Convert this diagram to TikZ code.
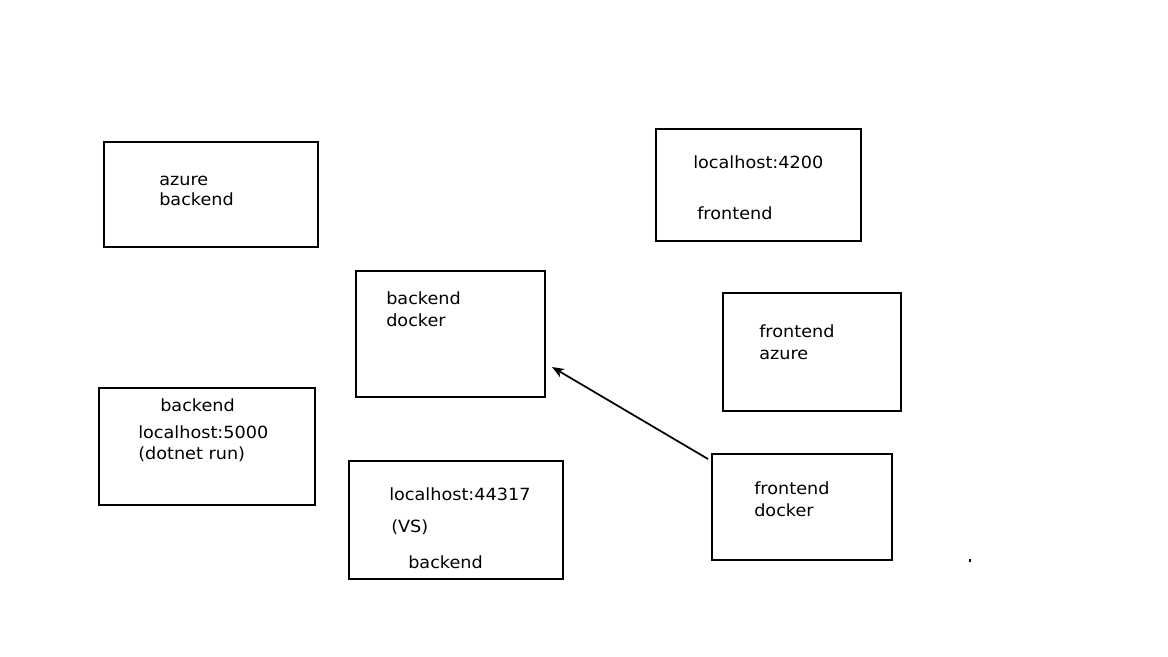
\documentclass[tikz,border=0pt]{standalone}
\usepackage{fontspec}
\setmainfont{DejaVu Sans}[FakeStretch=1.05]
\usetikzlibrary{fit,arrows.meta}
\begin{document}
\begin{tikzpicture}[x=0.75pt,y=-0.75pt,
  box/.style={draw=black, line width=1.5pt, inner sep=0pt},
  lbl/.style={anchor=base west, inner sep=0pt, font=\fontsize{12.6pt}{15pt}\selectfont},
  conn/.style={line width=1.3pt, -{Stealth[length=9pt,width=7pt,inset=2.5pt]}}]
\useasboundingbox (0,0) rectangle (1168,657);
\fill[white] (0,0) rectangle (1168,657);
% boxes
\node[box, fit={(104,142) (318,247)}] (b1) {};
\node[box, fit={(656,129) (861,241)}] (b2) {};
\node[box, fit={(356,271) (545,397)}] (b3) {};
\node[box, fit={(723,293) (901,411)}] (b4) {};
\node[box, fit={(99,388) (315,505)}] (b5) {};
\node[box, fit={(349,461) (563,579)}] (b6) {};
\node[box, fit={(712,454) (892,560)}] (b7) {};
% texts
\node[lbl] (t1a) at (159,185) {azure};
\node[lbl] (t1b) at (159,205.5) {backend};
\node[lbl] (t2a) at (693,168) {localhost:4200};
\node[lbl] (t2b) at (697,219) {frontend};
\node[lbl] (t3a) at (386,304) {backend};
\node[lbl] (t3b) at (386,326) {docker};
\node[lbl] (t4a) at (759,337) {frontend};
\node[lbl] (t4b) at (759,359) {azure};
\node[lbl] (t5a) at (160,411) {backend};
\node[lbl] (t5b) at (138,438.5) {localhost:5000};
\node[lbl] (t5c) at (138,459.5) {(dotnet run)};
\node[lbl] (t6a) at (389,500) {localhost:44317};
\node[lbl] (t6b) at (391,532) {(VS)};
\node[lbl] (t6c) at (408,568) {backend};
\node[lbl] (t7a) at (754,494) {frontend};
\node[lbl] (t7b) at (754,516) {docker};
% stray dot
\node[fill=black, inner sep=0pt, minimum size=1.6pt] (dot) at (970,560.5) {};
% connector
\draw[conn] ([shift={(-3,6)}]b7.north west) -- ([shift={(6,33)}]b3.east);
\end{tikzpicture}
\end{document}
